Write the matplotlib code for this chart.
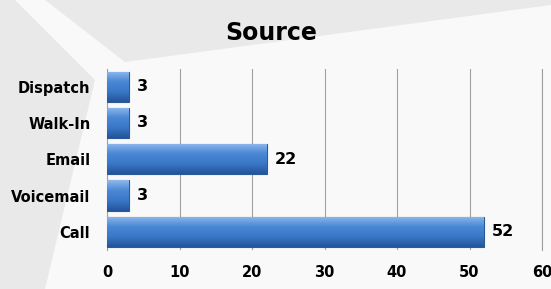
"""Horizontal bar chart of ticket sources."""

import matplotlib.pyplot as plt
import numpy as np
from matplotlib.colors import LinearSegmentedColormap
from matplotlib.patches import Polygon

CATEGORIES = ["Call", "Voicemail", "Email", "Walk-In", "Dispatch"]
VALUES = [52, 3, 22, 3, 3]
X_TICKS = [0, 10, 20, 30, 40, 50, 60]

W, H = 551, 289

plt.rcParams["font.family"] = ["DejaVu Sans"]

fig = plt.figure(figsize=(W / 100, H / 100), dpi=100, facecolor="#f9f9f9")


def px_poly(points):
    # pixel coords (origin top-left) -> figure fraction
    return [(x / W, 1 - y / H) for x, y in points]


# faint grey watermark shapes behind the chart
for pts in ([(45, 0), (551, 0), (551, 5), (125, 62)],
            [(0, 0), (15, 0), (95, 80), (45, 289), (0, 289)]):
    fig.patches.append(Polygon(px_poly(pts), closed=True, transform=fig.transFigure,
                               facecolor="#e9e9e9", edgecolor="none", zorder=-10))

ax = fig.add_axes([107 / W, 1 - 250 / H, (542 - 107) / W, (250 - 68.5) / H])
ax.set_facecolor("none")

y = np.arange(len(CATEGORIES))
bars = ax.barh(y, VALUES, height=0.83, color="#3b78c8", edgecolor="#2b5a98", linewidth=0.8, zorder=3)

cmap = LinearSegmentedColormap.from_list("bar", ["#24549a", "#3a77c6", "#4a88d6", "#8fb9ec"])
grad = np.linspace(0, 1, 64).reshape(-1, 1)
for bar in bars:
    x0, y0 = bar.get_x(), bar.get_y()
    im = ax.imshow(grad, cmap=cmap, aspect="auto", origin="lower",
                   extent=[x0, x0 + bar.get_width(), y0, y0 + bar.get_height()], zorder=3)
    im.set_clip_path(bar)

for yi, v in zip(y, VALUES):
    ax.text(v + 1.1, yi, str(v), va="center", ha="left", fontsize=11.5, fontweight="bold", zorder=4)

ax.set_xlim(0, 60)
ax.set_ylim(-0.5, len(CATEGORIES) - 0.5)
ax.set_xticks(X_TICKS)
ax.set_yticks(y)
ax.set_yticklabels(CATEGORIES)
ax.tick_params(axis="both", length=0, labelsize=10.5)
ax.tick_params(axis="x", pad=11)
ax.tick_params(axis="y", pad=12)
for lbl in ax.get_xticklabels() + ax.get_yticklabels():
    lbl.set_fontweight("bold")

ax.grid(axis="x", color="#a0a0a0", linewidth=0.8, zorder=0)
for side in ["top", "bottom"]:
    ax.spines[side].set_visible(False)
ax.spines["left"].set_color("#a0a0a0")
ax.spines["right"].set_color("#a0a0a0")

fig.text(271 / W, 1 - 33 / H, "Source", ha="center", va="center", fontsize=17, fontweight="bold")

fig.savefig("out.png", dpi=100, facecolor=fig.get_facecolor())
